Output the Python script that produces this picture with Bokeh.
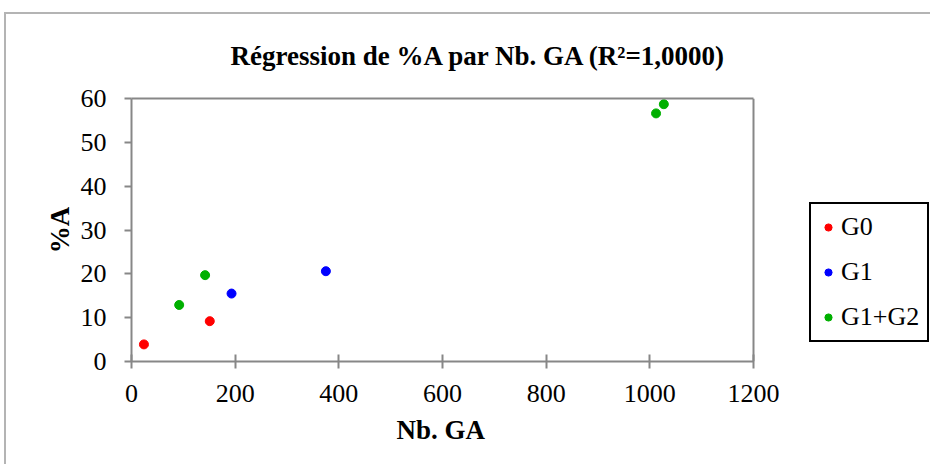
from bokeh.plotting import figure
from bokeh.models import (Legend, LegendItem, SingleIntervalTicker, FixedTicker,
                          Range1d, LinearAxis, Span, Title)
from bokeh.embed import file_html
from bokeh.resources import INLINE

# ---- data ----
title_text = "Régression de %A par Nb. GA (R²=1,0000)"
x_label = "Nb. GA"
y_label = "%A"
series_names = ["G0", "G1", "G1+G2"]
g0_x = [24, 151]
g0_y = [3.9, 9.2]
g1_x = [193, 375]
g1_y = [15.5, 20.6]
g12_x = [92, 142, 1012, 1027]
g12_y = [12.9, 19.7, 56.6, 58.7]
x_min, x_max, x_step = 0, 1200, 200
y_min, y_max, y_step = 0, 60, 10

# ---- layout (pixels) ----
SERIF = "Liberation Serif"
GRAY = "#878787"
W, H = 926, 452
ORIGIN_X, ORIGIN_Y = 6, 14          # canvas origin on the page (after css margin+border)
PLOT_L, PLOT_R, PLOT_T, PLOT_B = 131, 753, 98, 361
frame_right = ORIGIN_X + W
# the frame extends to the right edge so that the legend sits inside it;
# the x axis itself is bounded to [x_min, x_max]
x_end = x_min + (frame_right - PLOT_L) * (x_max - x_min) / (PLOT_R - PLOT_L)

p = figure(width=W, height=H, output_backend="svg", toolbar_location=None,
           x_range=Range1d(x_min, x_end), y_range=Range1d(y_min, y_max),
           min_border_left=PLOT_L - ORIGIN_X, min_border_right=0,
           min_border_top=PLOT_T - ORIGIN_Y,
           min_border_bottom=ORIGIN_Y + H - PLOT_B,
           title=title_text)
p.styles = {"margin-top": "12px", "margin-left": "4px",
            "border-top": "2px solid #b4b4b4", "border-left": "2px solid #b4b4b4"}

p.background_fill_color = "white"
p.border_fill_color = "white"
p.outline_line_color = None
p.xgrid.visible = False
p.ygrid.visible = False

p.title.text_font = SERIF
p.title.text_font_style = "bold"
p.title.text_font_size = "27px"
p.title.text_color = "black"
p.title.align = "left"
p.title.offset = 99
p.title.standoff = 20

for ax in (p.xaxis[0], p.yaxis[0]):
    ax.axis_line_color = GRAY
    ax.axis_line_width = 2
    ax.major_tick_line_color = GRAY
    ax.major_tick_line_width = 2
    ax.minor_tick_line_color = None
    ax.major_label_text_font = SERIF
    ax.major_label_text_font_size = "26px"
    ax.major_label_text_color = "black"
    ax.axis_label_text_font = SERIF
    ax.axis_label_text_font_style = "bold"
    ax.axis_label_text_font_size = "27px"
    ax.axis_label_text_color = "black"

p.xaxis[0].bounds = (x_min, x_max)
p.xaxis[0].ticker = SingleIntervalTicker(interval=x_step)
p.yaxis[0].ticker = SingleIntervalTicker(interval=y_step)
p.yaxis[0].axis_label = y_label
p.xaxis[0].major_tick_in = 7
p.xaxis[0].major_tick_out = 7
p.yaxis[0].major_tick_in = 0
p.yaxis[0].major_tick_out = 7
p.xaxis[0].major_label_standoff = 16
p.yaxis[0].major_label_standoff = 18
p.yaxis[0].axis_label_standoff = 3

# x axis title, centred under the bounded axis
x_title = Title(text=x_label, align="left", offset=265, standoff=16,
                text_font=SERIF, text_font_style="bold", text_font_size="27px",
                text_color="black")
p.add_layout(x_title, "below")

# top edge of the plot area (axis line only, bounded to the data range)
top_axis = LinearAxis(bounds=(x_min, x_max), ticker=FixedTicker(ticks=[]),
                      axis_line_color=GRAY, axis_line_width=2,
                      major_tick_in=0, major_tick_out=0, major_label_standoff=0,
                      minor_tick_in=0, minor_tick_out=0,
                      major_tick_line_color=None, minor_tick_line_color=None)
p.add_layout(top_axis, "above")
# blank spacer between the chart title and the plot area
spacer = Title(text=".", text_font=SERIF, text_font_size="12px",
               text_color="white", standoff=8)
p.add_layout(spacer, "above")
# right edge of the plot area
p.add_layout(Span(location=x_max, dimension="height", line_color=GRAY, line_width=2))

colors = ["#ff0000", "#0000ff", "#00b000"]
r0 = p.scatter(g0_x, g0_y, size=9, color=colors[0])
r1 = p.scatter(g1_x, g1_y, size=9, color=colors[1])
r2 = p.scatter(g12_x, g12_y, size=9, color=colors[2])

legend = Legend(items=[LegendItem(label=series_names[0], renderers=[r0]),
                       LegendItem(label=series_names[1], renderers=[r1]),
                       LegendItem(label=series_names[2], renderers=[r2])],
                location=(809 - PLOT_L, PLOT_B - 342))
legend.label_text_font = SERIF
legend.label_text_font_size = "26px"
legend.label_text_color = "black"
legend.border_line_color = "black"
legend.border_line_alpha = 1
legend.border_line_width = 2
legend.background_fill_color = "white"
legend.background_fill_alpha = 1
legend.padding = 8
legend.spacing = 15
legend.glyph_width = 18
legend.glyph_height = 30
legend.label_height = 30
legend.label_standoff = 4
legend.margin = 0
p.add_layout(legend, "center")

open("out.html", "w").write(file_html(p, INLINE))
